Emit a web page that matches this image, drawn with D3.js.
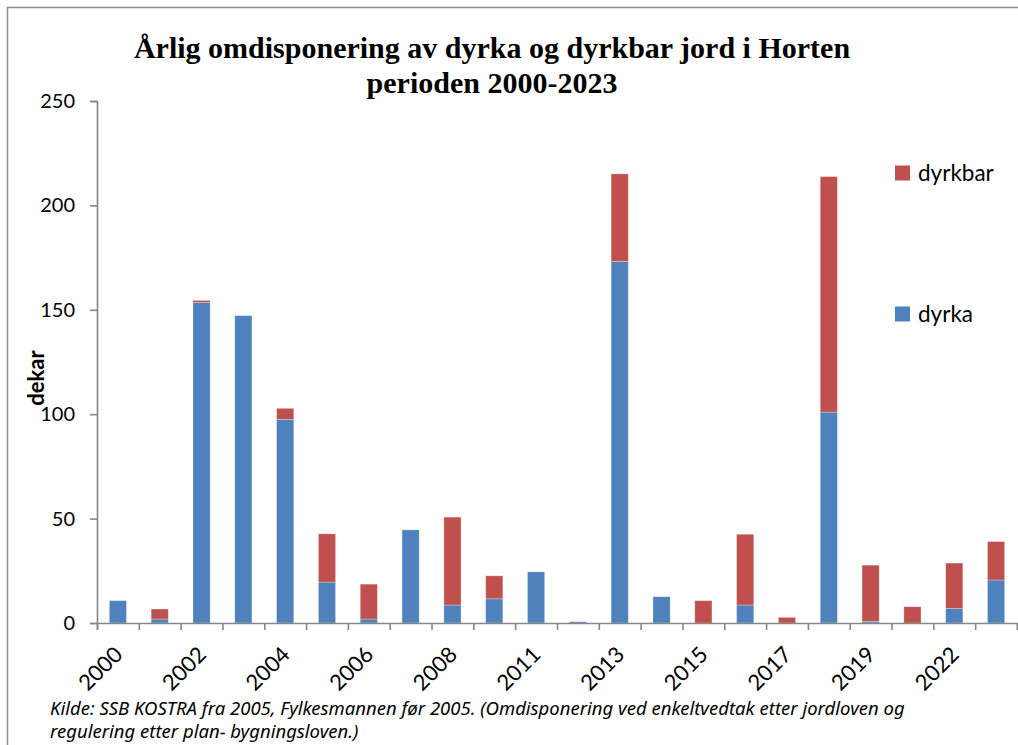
<!DOCTYPE html>
<html>
<head>
<meta charset="utf-8">
<script src="https://cdn.jsdelivr.net/npm/d3@7"></script>
<style>
  body { margin: 0; background: #fff; }
  svg { display: block; }
</style>
</head>
<body>
<div id="chart"></div>
<script>
// data (dekar)
var years = ["2000","2001","2002","2003","2004","2005","2006","2007","2008","2010","2011",
             "2012","2013","2014","2015","2016","2017","2018","2019","2020","2022","2023"];
var dyrka   = [10.7, 1.9, 153.5, 147.2, 97.5, 19.6, 1.9, 44.6, 8.6, 11.6, 24.5,
               0.6, 173.2, 12.6, 0, 8.6, 0, 101, 0.8, 0, 7, 20.6];
var dyrkbar = [0, 4.8, 1, 0, 5.3, 23.1, 16.7, 0, 42.1, 11, 0,
               0, 41.9, 0, 10.7, 33.9, 2.7, 112.8, 26.9, 7.8, 21.7, 18.4];
var yTicks = [0, 50, 100, 150, 200, 250];
var shownLabels = ["2000","2002","2004","2006","2008","2011","2013","2015","2017","2019","2022"];
var seriesNames = ["dyrka", "dyrkbar"];

var W = 1018, H = 745;
var margin = {top: 101, right: 1, bottom: 122, left: 97},
    width = W - margin.left - margin.right,
    height = H - margin.top - margin.bottom;

var color = d3.scaleOrdinal().domain(seriesNames).range(["#4f81bd", "#c0504d"]);

var svg = d3.select("#chart").append("svg")
    .attr("width", W)
    .attr("height", H);

// outer frame
svg.append("rect")
    .attr("x", 7.5).attr("y", 7.5)
    .attr("width", W + 20).attr("height", H + 20)
    .attr("fill", "none")
    .attr("stroke", "#8c8c8c")
    .attr("stroke-width", 1.5);

var g = svg.append("g")
    .attr("transform", "translate(" + margin.left + "," + margin.top + ")");

// scales
var x = d3.scaleBand().domain(years).range([0, width])
    .paddingInner(0.59).paddingOuter(0.295);
var xEdge = d3.scaleLinear().domain([0, years.length]).range([0, width]);
var y = d3.scaleLinear().domain([0, 250]).range([height, 0]);

// stack the data
var table = years.map(function(yr, i) {
  return {year: yr, dyrka: dyrka[i], dyrkbar: dyrkbar[i]};
});
var stacked = d3.stack().keys(seriesNames)(table);

g.selectAll("g.series")
  .data(stacked)
  .enter().append("g")
    .attr("class", "series")
    .attr("fill", function(d) { return color(d.key); })
  .selectAll("rect")
  .data(function(d) { return d; })
  .enter().append("rect")
    .attr("x", function(d) { return x(d.data.year); })
    .attr("width", x.bandwidth())
    .attr("y", function(d) { return y(d[1]); })
    .attr("height", function(d) { return y(d[0]) - y(d[1]); })
    .attr("stroke", "rgba(255,255,255,0.35)")
    .attr("stroke-width", 0.8);

// y axis
var yAxis = g.append("g")
    .call(d3.axisLeft(y).tickValues(yTicks).tickSize(7).tickPadding(15));
yAxis.selectAll("path, line").attr("stroke", "#868686").attr("stroke-width", 1.6);
yAxis.selectAll("text")
    .style("font-family", "Lato, sans-serif")
    .style("font-size", "20px")
    .attr("fill", "#000");

// x axis: tick marks between categories
var xTicks = g.append("g")
    .attr("transform", "translate(0," + height + ")")
    .call(d3.axisBottom(xEdge).tickValues(d3.range(years.length + 1))
          .tickSize(7).tickFormat(""));
xTicks.selectAll("path, line").attr("stroke", "#868686").attr("stroke-width", 1.6);

// x labels, every other one, rotated
var xLab = g.append("g")
    .attr("transform", "translate(0," + height + ")")
    .call(d3.axisBottom(x).tickSize(0)
          .tickFormat(function(d) { return shownLabels.indexOf(d) >= 0 ? d : ""; }));
xLab.select(".domain").remove();
xLab.selectAll("text")
    .style("font-family", "Lato, sans-serif")
    .style("font-size", "22px")
    .attr("fill", "#000")
    .style("text-anchor", "end")
    .attr("dy", null)
    .attr("y", 0)
    .attr("transform", "translate(6,33) rotate(-45)");

// y axis title
svg.append("text")
    .attr("transform", "translate(44,378) rotate(-90)")
    .style("text-anchor", "middle")
    .style("font-family", "Lato, sans-serif")
    .style("font-weight", "bold")
    .style("font-size", "22px")
    .text("dekar");

// title
var title = svg.append("text")
    .style("text-anchor", "middle")
    .style("font-family", "'Liberation Serif', 'Times New Roman', serif")
    .style("font-weight", "bold")
    .style("font-size", "30px");
title.append("tspan").attr("x", 492).attr("y", 58)
    .text("Årlig omdisponering av dyrka og dyrkbar jord i Horten");
title.append("tspan").attr("x", 492).attr("y", 93)
    .text("perioden 2000-2023");

// legend
var legend = svg.append("g").selectAll("g")
    .data([{key: "dyrkbar", y: 173}, {key: "dyrka", y: 314}])
    .enter().append("g")
    .attr("transform", function(d) { return "translate(895," + d.y + ")"; });
legend.append("rect")
    .attr("x", 0).attr("y", -7.5)
    .attr("width", 15).attr("height", 15)
    .attr("fill", function(d) { return color(d.key); });
legend.append("text")
    .attr("x", 23).attr("y", 7.5)
    .style("font-family", "Lato, sans-serif")
    .style("font-size", "22.5px")
    .text(function(d) { return d.key; });

// source note
var note = svg.append("text")
    .style("font-family", "'Noto Sans', sans-serif")
    .style("font-style", "italic")
    .style("font-size", "18.5px");
note.append("tspan").attr("x", 50).attr("y", 715)
    .text("Kilde: SSB KOSTRA fra 2005, Fylkesmannen før 2005. (Omdisponering ved enkeltvedtak etter jordloven og");
note.append("tspan").attr("x", 50).attr("y", 738)
    .text("regulering etter plan- bygningsloven.)");
</script>
</body>
</html>
